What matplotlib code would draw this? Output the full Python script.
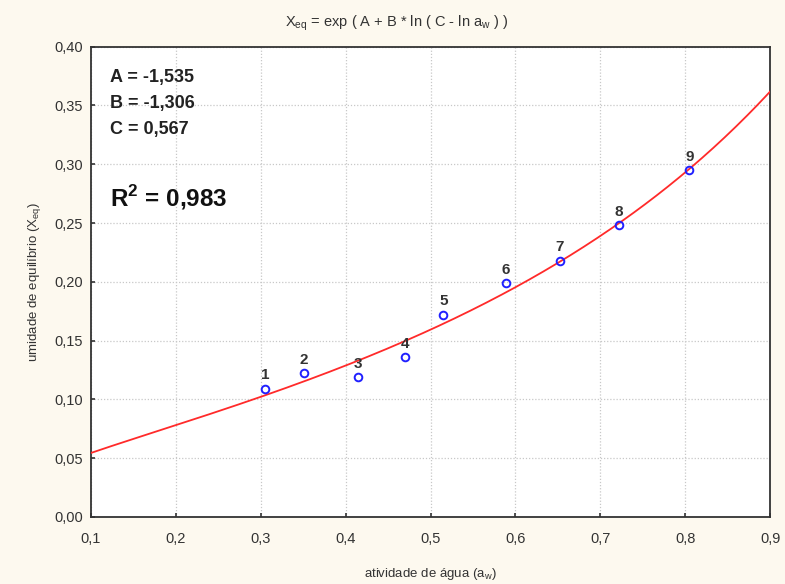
import matplotlib
matplotlib.use("Agg")
import matplotlib.pyplot as plt
import numpy as np

plt.rcParams["font.family"] = ["Liberation Sans", "DejaVu Sans"]

# fitted parameters (as printed on the chart)
A = -1.535
B = -1.306
C = 0.567
R2 = 0.983

# experimental points
point_labels = ["1", "2", "3", "4", "5", "6", "7", "8", "9"]
aw = [0.305, 0.351, 0.415, 0.470, 0.515, 0.589, 0.652, 0.722, 0.805]
xeq = [0.109, 0.122, 0.119, 0.136, 0.172, 0.199, 0.218, 0.248, 0.295]

x_ticks = [0.1, 0.2, 0.3, 0.4, 0.5, 0.6, 0.7, 0.8, 0.9]
y_ticks = [0.00, 0.05, 0.10, 0.15, 0.20, 0.25, 0.30, 0.35, 0.40]

bg = "#fdf9ef"
fig = plt.figure(figsize=(7.85, 5.84), dpi=100, facecolor=bg)
ax = fig.add_axes([0.116, 0.115, 0.865, 0.805])
ax.set_facecolor("white")

# model curve from the printed parameters
aw_line = np.linspace(0.1, 0.9, 300)
ax.plot(aw_line, np.exp(A + B * np.log(C - np.log(aw_line))), color="#ff2a2a", lw=1.3, zorder=3)

ax.plot(aw, xeq, linestyle="none", marker="o", ms=5.5, mfc="none", mec="#2020ff", mew=1.4, zorder=4)
for lab, x, y in zip(point_labels, aw, xeq):
    ax.annotate(lab, (x, y), xytext=(0, 4.5), textcoords="offset points",
                ha="center", va="bottom", fontsize=11, fontweight="bold", color="#333333", zorder=5)

ax.set_xlim(0.1, 0.9)
ax.set_ylim(0.0, 0.4)
ax.set_xticks(x_ticks)
ax.set_yticks(y_ticks)
ax.set_xticklabels([f"{t:.1f}".replace(".", ",") for t in x_ticks])
ax.set_yticklabels([f"{t:.2f}".replace(".", ",") for t in y_ticks])
ax.tick_params(direction="in", length=3, width=1.2, labelsize=10.5, colors="#333333", pad=6)
ax.tick_params(axis="x", pad=11)
ax.grid(True, linestyle=(0, (1, 1.5)), color="#c8c8c8", lw=0.9)
ax.set_axisbelow(True)
for s in ax.spines.values():
    s.set_color("#333333")
    s.set_linewidth(1.3)

ax.set_xlabel("atividade de água (a$_\\mathregular{w}$)", fontsize=9.5, color="#333333", labelpad=14)
ax.set_ylabel("umidade de equilíbrio (X$_\\mathregular{eq}$)", fontsize=9.5, color="#333333", labelpad=8)
fig.text(0.505, 0.960, "X$_\\mathregular{eq}$ = exp ( A + B * ln ( C - ln a$_\\mathregular{w}$ ) )",
         ha="center", va="center", fontsize=10.5, color="#333333")

ax.text(0.028, 0.953, "A = -1,535\nB = -1,306\nC = 0,567", transform=ax.transAxes,
        ha="left", va="top", fontsize=13, fontweight="bold", color="#222222", linespacing=1.7)
ax.text(0.028, 0.68, "R$^\\mathregular{2}$ = " + f"{R2:.3f}".replace(".", ","), transform=ax.transAxes,
        ha="left", va="center", fontsize=17.5, fontweight="bold", color="#111111")

fig.savefig("out.png", dpi=100, facecolor=bg)
